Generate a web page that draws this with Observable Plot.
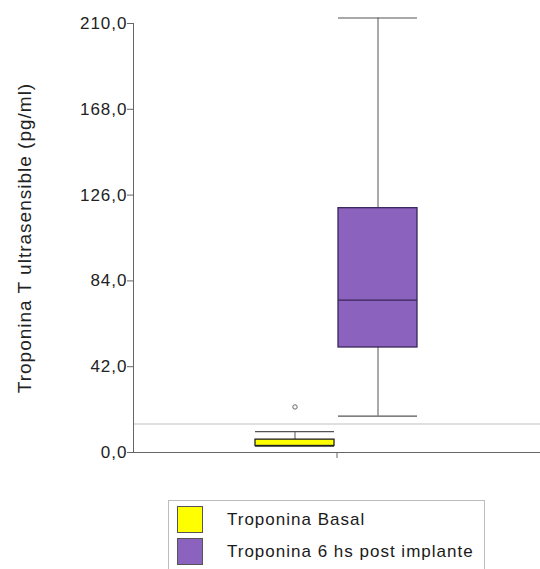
<!DOCTYPE html>
<html>
<head>
<meta charset="utf-8">
<script src="https://cdn.jsdelivr.net/npm/d3@7"></script>
<script src="https://cdn.jsdelivr.net/npm/@observablehq/plot@0.6"></script>
<style>
  html, body { margin: 0; padding: 0; background: #fff; }
  body { width: 540px; height: 569px; overflow: hidden; font-family: "Liberation Sans", Arial, sans-serif; }
  #chart svg { display: block; }
  .legend {
    position: relative;
    margin-left: 168px; margin-top: 10px;
    width: 317px; height: 90px;
    border: 1px solid #bdbdbd;
    box-sizing: border-box;
    padding: 5px 0 0 8px;
  }
  .legend .row { display: flex; align-items: center; height: 27px; margin-bottom: 5px; }
  .legend .sw { width: 26px; height: 27px; box-sizing: border-box; border: 1px solid #555; margin-right: 24px; }
  .legend .lbl { font-size: 17px; letter-spacing: 1px; color: #1a1a1a; }
</style>
</head>
<body>
<div id="chart"></div>
<script>
// ---- data ----
const groups = ["Troponina Basal", "Troponina 6 hs post implante"];
const mins    = [3.2, 17.8];
const q1s     = [3.2, 51.4];
const medians = [3.3, 74.6];
const q3s     = [6.3, 119.6];
const maxs    = [10.2, 212.7];
const outlierGroups = ["Troponina Basal"];
const outlierValues = [22.3];
const referenceValues = [14];
const yTicks = [0, 42, 84, 126, 168, 210];
const facetGroup = "Troponina T";
const yLabel = "Troponina T ultrasensible (pg/ml)";

// ---- styles ----
const fills   = ["#ffff00", "#8b62be"];
const strokes = ["#222222", "#3a2558"];

const rows = groups.map((g, i) => ({
  facet: facetGroup, group: g, min: mins[i], q1: q1s[i], median: medians[i],
  q3: q3s[i], max: maxs[i], fill: fills[i], stroke: strokes[i]
}));
const outliers = outlierGroups.map((g, i) => ({facet: facetGroup, group: g, value: outlierValues[i]}));

const fmt = d => d.toFixed(1).replace(".", ",");

const plot = Plot.plot({
  width: 540,
  height: 490,
  marginLeft: 133,
  marginRight: 0,
  marginTop: 23,
  marginBottom: 38,
  style: {fontFamily: "'Liberation Sans', Arial, sans-serif", fontSize: "17px", color: "#222", background: "#fff", letterSpacing: "1px"},
  fx: {domain: [facetGroup], padding: 0},
  x: {domain: groups, paddingInner: 0.048, paddingOuter: 1.45, axis: null},
  y: {domain: [0, 210]},
  color: {type: "identity"},
  marks: [
    Plot.ruleY(referenceValues, {stroke: "#d4d4d4", strokeWidth: 1.5}),
    Plot.ruleY([0], {stroke: "#666"}),
    Plot.frame({anchor: "left", stroke: "#666"}),
    Plot.axisY({ticks: yTicks, tickFormat: fmt, tickSize: 6, tickPadding: 0, stroke: "#666",
      label: yLabel, labelAnchor: "center", labelOffset: 116, labelArrow: "none"}),
    Plot.axisFx({anchor: "bottom", tickSize: 6, tickFormat: () => "", label: null, stroke: "#666"}),
    // whiskers
    Plot.ruleX(rows, {fx: "facet", x: "group", y1: "min", y2: "q1", stroke: "#555"}),
    Plot.ruleX(rows, {fx: "facet", x: "group", y1: "q3", y2: "max", stroke: "#555"}),
    Plot.tickY(rows, {fx: "facet", x: "group", y: "max", stroke: "#555", strokeWidth: 1.2}),
    Plot.tickY(rows, {fx: "facet", x: "group", y: "min", stroke: "#555", strokeWidth: 1.2}),
    // boxes
    Plot.barY(rows, {fx: "facet", x: "group", y1: "q1", y2: "q3", fill: "fill", stroke: "stroke", strokeWidth: 1.3}),
    Plot.tickY(rows, {fx: "facet", x: "group", y: "median", stroke: "stroke", strokeWidth: 1.3}),
    // outliers
    Plot.dot(outliers, {fx: "facet", x: "group", y: "value", r: 2.2, stroke: "#666", fill: "#fff", strokeWidth: 1})
  ]
});

const lab = plot.querySelector('[aria-label="y-axis label"]');
if (lab) { lab.style.fontSize = "19px"; }
document.getElementById("chart").append(plot);

// legend
const legend = document.createElement("div");
legend.className = "legend";
groups.forEach((g, i) => {
  const row = document.createElement("div");
  row.className = "row";
  const sw = document.createElement("span");
  sw.className = "sw";
  sw.style.background = fills[i];
  const lbl = document.createElement("span");
  lbl.className = "lbl";
  lbl.textContent = g;
  row.append(sw, lbl);
  legend.append(row);
});
document.body.append(legend);
</script>
</body>
</html>
